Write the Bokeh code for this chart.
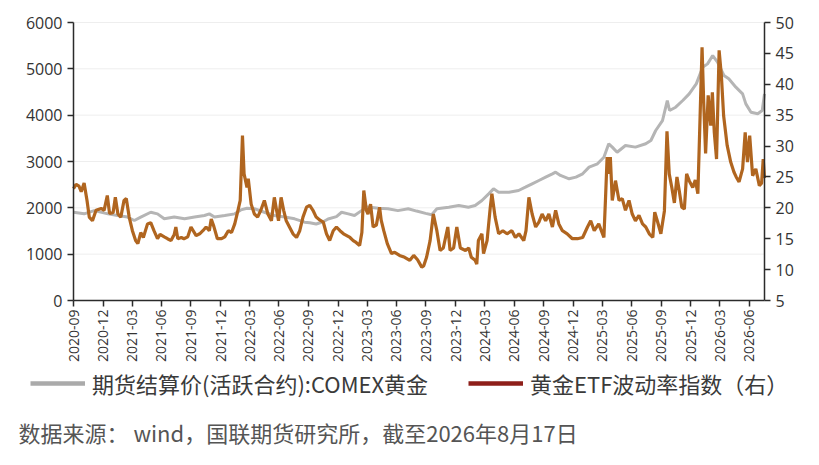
import math
import pandas as pd
from bokeh.plotting import figure
from bokeh.models import (Range1d, LinearAxis, FixedTicker, DatetimeTickFormatter,
                          Legend, LegendItem, Label)
from bokeh.embed import file_html
from bokeh.resources import INLINE

# ---------------- data ----------------
x_tick_labels = ["2020-09", "2020-12", "2021-03", "2021-06", "2021-09", "2021-12",
                 "2022-03", "2022-06", "2022-09", "2022-12", "2023-03", "2023-06",
                 "2023-09", "2023-12", "2024-03", "2024-06", "2024-09", "2024-12",
                 "2025-03", "2025-06", "2025-09", "2025-12", "2026-03", "2026-06"]
left_ticks = [0, 1000, 2000, 3000, 4000, 5000, 6000]
right_ticks = [5, 10, 15, 20, 25, 30, 35, 40, 45, 50]

gold_dates = ["2020-09-30", "2020-11-02", "2020-12-03", "2021-01-15", "2021-02-14", "2021-03-17",
              "2021-04-07", "2021-04-27", "2021-05-28", "2021-06-18", "2021-07-09", "2021-08-09",
              "2021-09-10", "2021-10-11", "2021-11-11", "2021-11-26", "2021-12-12", "2022-01-13",
              "2022-02-13", "2022-03-04", "2022-03-23", "2022-04-15", "2022-05-16", "2022-06-16",
              "2022-07-18", "2022-08-18", "2022-09-18", "2022-10-04", "2022-10-24", "2022-11-15",
              "2022-11-30", "2022-12-26", "2023-01-11", "2023-02-01", "2023-02-20", "2023-03-14",
              "2023-04-03", "2023-05-05", "2023-06-04", "2023-07-05", "2023-08-06", "2023-09-01",
              "2023-09-29", "2023-10-18", "2023-11-03", "2023-12-10", "2024-01-10", "2024-02-09",
              "2024-03-01", "2024-03-22", "2024-04-12", "2024-04-27", "2024-05-13", "2024-06-14",
              "2024-07-14", "2024-08-04", "2024-08-25", "2024-09-15", "2024-10-06", "2024-10-27",
              "2024-11-06", "2024-11-21", "2024-12-18", "2025-01-08", "2025-01-29", "2025-02-18",
              "2025-03-16", "2025-04-05", "2025-04-20", "2025-05-01", "2025-05-16", "2025-06-11",
              "2025-07-12", "2025-08-13", "2025-08-29", "2025-09-13", "2025-10-04", "2025-10-19",
              "2025-10-26", "2025-11-14", "2025-12-06", "2025-12-26", "2026-01-17", "2026-02-06",
              "2026-02-21", "2026-03-09", "2026-03-24", "2026-04-13", "2026-04-28", "2026-05-20",
              "2026-06-10", "2026-06-20", "2026-07-06", "2026-07-27", "2026-08-10", "2026-08-17"]
gold_price = [1905, 1870, 1940, 1870, 1835, 1800,
              1727, 1800, 1905, 1870, 1763, 1800,
              1763, 1800, 1835, 1870, 1800, 1835,
              1870, 1955, 1990, 1980, 1905, 1835,
              1800, 1763, 1690, 1680, 1650, 1700,
              1760, 1810, 1905, 1870, 1835, 1940,
              2020, 1990, 1980, 1940, 1980, 1930,
              1880, 1850, 1980, 2014, 2050, 2014,
              2050, 2158, 2302, 2410, 2338, 2338,
              2374, 2445, 2518, 2590, 2662, 2734,
              2770, 2700, 2626, 2662, 2734, 2878,
              2950, 3092, 3382, 3310, 3200, 3345,
              3310, 3382, 3453, 3669, 3884, 4316,
              4100, 4172, 4316, 4460, 4676, 5035,
              5107, 5287, 5143, 4856, 4784, 4604,
              4460, 4244, 4064, 4029, 4100, 4460]

vol_dates = ["2020-09-30", "2020-10-08", "2020-10-17", "2020-10-24", "2020-11-02", "2020-11-11",
             "2020-11-18", "2020-11-28", "2020-12-09", "2020-12-25", "2021-01-03", "2021-01-13",
             "2021-01-20", "2021-01-31", "2021-02-07", "2021-02-15", "2021-02-24", "2021-03-06",
             "2021-03-13", "2021-03-22", "2021-04-01", "2021-04-11", "2021-04-18", "2021-04-27",
             "2021-05-05", "2021-05-18", "2021-05-28", "2021-06-07", "2021-06-18", "2021-06-26",
             "2021-07-09", "2021-07-19", "2021-07-30", "2021-08-09", "2021-08-14", "2021-08-20",
             "2021-08-31", "2021-09-08", "2021-09-20", "2021-09-30", "2021-10-16", "2021-10-27",
             "2021-11-06", "2021-11-16", "2021-11-26", "2021-12-02", "2021-12-10", "2021-12-21",
             "2022-01-03", "2022-01-13", "2022-01-24", "2022-02-03", "2022-02-13", "2022-02-23",
             "2022-03-02", "2022-03-09", "2022-03-14", "2022-03-23", "2022-03-27", "2022-04-05",
             "2022-04-15", "2022-04-25", "2022-05-05", "2022-05-16", "2022-05-27", "2022-06-07",
             "2022-06-16", "2022-06-23", "2022-06-29", "2022-07-07", "2022-07-15", "2022-07-23",
             "2022-08-02", "2022-08-13", "2022-08-24", "2022-09-03", "2022-09-13", "2022-09-24",
             "2022-10-04", "2022-10-14", "2022-10-24", "2022-11-05", "2022-11-15", "2022-11-25",
             "2022-12-05", "2022-12-16", "2022-12-26", "2023-01-06", "2023-01-17", "2023-01-27",
             "2023-02-06", "2023-02-16", "2023-02-25", "2023-03-08", "2023-03-15", "2023-03-21",
             "2023-03-29", "2023-04-03", "2023-04-11", "2023-04-19", "2023-04-29", "2023-05-09",
             "2023-05-14", "2023-05-22", "2023-06-02", "2023-06-15", "2023-06-25", "2023-07-10",
             "2023-07-26", "2023-08-11", "2023-08-23", "2023-09-04", "2023-09-17", "2023-09-23",
             "2023-10-02", "2023-10-13", "2023-10-23", "2023-11-03", "2023-11-13", "2023-11-23",
             "2023-12-07", "2023-12-14", "2023-12-25", "2024-01-04", "2024-01-15", "2024-01-31",
             "2024-02-10", "2024-02-18", "2024-03-01", "2024-03-06", "2024-03-11", "2024-03-22",
             "2024-03-27", "2024-04-07", "2024-04-17", "2024-04-22", "2024-05-02", "2024-05-13",
             "2024-05-26", "2024-06-08", "2024-06-23", "2024-07-04", "2024-07-15", "2024-07-30",
             "2024-08-06", "2024-08-15", "2024-08-25", "2024-09-05", "2024-09-15", "2024-09-25",
             "2024-10-06", "2024-10-16", "2024-10-27", "2024-11-06", "2024-11-16", "2024-11-27",
             "2024-12-12", "2024-12-28", "2025-01-13", "2025-01-29", "2025-02-13", "2025-02-23",
             "2025-03-06", "2025-03-20", "2025-04-05", "2025-04-10", "2025-04-15", "2025-04-20",
             "2025-04-25", "2025-05-01", "2025-05-11", "2025-05-22", "2025-06-01", "2025-06-11",
             "2025-06-22", "2025-07-02", "2025-07-12", "2025-07-23", "2025-08-03", "2025-08-13",
             "2025-08-24", "2025-09-04", "2025-09-10", "2025-09-19", "2025-09-29", "2025-10-10",
             "2025-10-18", "2025-10-25", "2025-11-02", "2025-11-10", "2025-11-18", "2025-11-25",
             "2025-12-03", "2025-12-11", "2025-12-18", "2025-12-26", "2026-01-06", "2026-01-14",
             "2026-01-22", "2026-01-29", "2026-02-04", "2026-02-09", "2026-02-15", "2026-02-23",
             "2026-03-03", "2026-03-08", "2026-03-14", "2026-03-21", "2026-03-29", "2026-04-05",
             "2026-04-12", "2026-04-23", "2026-05-04", "2026-05-14", "2026-05-21", "2026-05-30",
             "2026-06-10", "2026-06-18", "2026-06-25", "2026-07-02", "2026-07-11", "2026-07-21",
             "2026-08-01", "2026-08-08", "2026-08-13", "2026-08-17"]
vol_index = [23.1, 23.8, 23.5, 22.6, 24.0, 21.2,
             18.5, 17.9, 19.6, 19.9, 19.6, 22.0,
             19.1, 19.2, 21.7, 19.0, 18.5, 21.2,
             21.5, 18.5, 16.3, 14.7, 14.2, 16.0,
             15.2, 17.4, 17.6, 16.3, 15.0, 15.7,
             15.3, 15.0, 14.7, 15.7, 16.9, 15.0,
             15.2, 15.0, 15.3, 16.9, 15.5, 15.8,
             16.3, 16.9, 16.3, 18.2, 17.0, 15.0,
             15.0, 15.3, 16.3, 16.0, 17.4, 19.6,
             21.2, 31.7, 25.5, 23.3, 24.7, 20.6,
             19.0, 18.5, 19.6, 21.2, 19.0, 17.9,
             21.7, 19.6, 17.9, 21.7, 19.6, 17.9,
             16.9, 15.8, 15.2, 16.3, 18.5, 20.1,
             20.4, 19.6, 18.5, 18.0, 17.7, 15.8,
             14.7, 16.3, 16.9, 16.3, 15.8, 15.5,
             15.2, 14.7, 14.4, 13.9, 16.0, 22.8,
             19.6, 19.0, 20.6, 16.9, 17.2, 20.1,
             18.0, 16.3, 14.2, 12.6, 12.8, 12.3,
             12.0, 11.5, 12.3, 11.6, 10.4, 10.6,
             12.0, 14.7, 19.0, 16.3, 13.1, 13.5,
             16.9, 13.1, 13.5, 16.9, 13.5, 13.1,
             13.5, 12.0, 11.5, 10.9, 14.7, 15.8,
             12.6, 14.7, 20.1, 22.3, 18.5, 15.8,
             16.3, 15.8, 16.3, 15.2, 15.8, 14.7,
             16.3, 21.7, 19.0, 16.9, 17.7, 19.0,
             17.9, 19.0, 16.9, 19.6, 17.4, 16.3,
             15.8, 15.0, 15.0, 15.2, 16.9, 17.9,
             16.3, 17.4, 15.2, 21.5, 28.2, 25.5,
             28.2, 21.2, 24.4, 21.2, 21.5, 19.6,
             21.2, 19.0, 17.9, 18.8, 17.4, 16.9,
             15.8, 15.2, 19.3, 17.7, 15.8, 19.5,
             32.4, 25.5, 23.3, 20.8, 25.0, 22.8,
             20.1, 19.8, 25.5, 24.4, 23.3, 24.5,
             22.3, 35.0, 46.0, 37.2, 28.8, 38.2,
             33.3, 38.7, 32.2, 27.9, 45.5, 41.4,
             34.9, 30.1, 27.4, 25.8, 25.0, 24.2,
             26.3, 32.2, 27.4, 31.7, 25.2, 26.3,
             23.6, 24.0, 27.9, 24.8]

gold_label = "期货结算价(活跃合约):COMEX黄金"
vol_label = "黄金ETF波动率指数（右）"
source_text = "数据来源： wind，国联期货研究所，截至2026年8月17日"

# ---------------- layout constants (pixels) ----------------
W, H = 819, 465
BOX_L, BOX_R, BOX_T, BOX_B = 73, 764, 22, 300      # plotting box inside the canvas

gx = pd.to_datetime(gold_dates)
vx = pd.to_datetime(vol_dates)
x_ticks = [pd.Period(t, "M").end_time.normalize().value // 10**6 for t in x_tick_labels]
x_lo = gx[0].value // 10**6
x_hi = vx[-1].value // 10**6
y_lo, y_hi = left_ticks[0], left_ticks[-1]
v_lo, v_hi = right_ticks[0], right_ticks[-1]

# the frame covers the whole canvas; ranges are widened so that the data box sits where it should
kx = (x_hi - x_lo) / (BOX_R - BOX_L)
ky = (y_hi - y_lo) / (BOX_B - BOX_T)
kv = (v_hi - v_lo) / (BOX_B - BOX_T)

p = figure(width=W, height=H, x_axis_type="datetime",
           x_range=Range1d(x_lo - BOX_L * kx, x_hi + (W - BOX_R) * kx),
           y_range=Range1d(y_lo - (H - BOX_B) * ky, y_hi + BOX_T * ky),
           output_backend="svg", toolbar_location=None,
           min_border=0, min_border_left=0, min_border_right=0,
           min_border_top=0, min_border_bottom=0)
p.extra_y_ranges = {"vol": Range1d(v_lo - (H - BOX_B) * kv, v_hi + BOX_T * kv)}
p.outline_line_color = None
p.xgrid.visible = False
p.ygrid.visible = False

axis_color = "#2b2b2b"
label_color = "#333333"
tick_font = "Open Sans"

xa = p.xaxis[0]
xa.fixed_location = y_lo
xa.bounds = (x_lo, x_hi)
xa.ticker = FixedTicker(ticks=x_ticks)
xa.formatter = DatetimeTickFormatter(days="%Y-%m", months="%Y-%m", years="%Y-%m",
                                     hours="%Y-%m", minutes="%Y-%m", seconds="%Y-%m")
xa.major_label_orientation = math.pi / 2
xa.major_label_text_font_size = "14px"
xa.major_label_standoff = 3

ya = p.yaxis[0]
ya.fixed_location = x_lo
ya.bounds = (y_lo, y_hi)
ya.ticker = FixedTicker(ticks=left_ticks)
ya.major_label_text_font_size = "16px"
ya.major_label_standoff = 5

ra = LinearAxis(y_range_name="vol", ticker=FixedTicker(ticks=right_ticks),
                fixed_location=x_hi, bounds=(v_lo, v_hi))
ra.major_label_text_font_size = "16px"
ra.major_label_standoff = 5
p.add_layout(ra, "right")

for ax in (xa, ya, ra):
    ax.major_label_text_font = tick_font
    ax.major_label_text_color = label_color
    ax.axis_line_color = axis_color
    ax.axis_line_width = 1.5
    ax.major_tick_line_color = axis_color
    ax.major_tick_line_width = 1.5
    ax.major_tick_out = 6
    ax.major_tick_in = 0
    ax.minor_tick_line_color = None

# faint horizontal grid lines between the two axes, at the left-axis ticks
grid_y = left_ticks[1:]
p.segment(x0=[gx[0]] * len(grid_y), x1=[vx[-1]] * len(grid_y), y0=grid_y, y1=grid_y,
          line_color="#eeeeee", line_width=1)

p.line(gx, gold_price, line_color="#b5b5b5", line_width=3)
p.line(vx, vol_index, line_color="#b0651f", line_width=3.2, y_range_name="vol")

# ---------------- legend + source ----------------
# swatch-only renderers (a single missing value, so nothing shows in the plot)
lg_gold = p.line([gx[0]], [float("nan")], line_color="#aaaaaa", line_width=4.5)
lg_vol = p.line([vx[0]], [float("nan")], line_color="#8e1f1a", line_width=4.5,
                y_range_name="vol")
legend = Legend(items=[LegendItem(label=gold_label, renderers=[lg_gold]),
                       LegendItem(label=vol_label, renderers=[lg_vol])],
                orientation="horizontal", location=(30, H - 399),
                glyph_width=55, glyph_height=22, label_height=22, label_standoff=7,
                spacing=40, padding=0, margin=0,
                border_line_color=None, background_fill_alpha=0,
                label_text_font="Noto Sans CJK SC", label_text_font_size="22px",
                label_text_color="#3a3a3a")
p.add_layout(legend, "center")

p.add_layout(Label(x=18, y=H - 431, x_units="screen", y_units="screen", text=source_text,
                   text_font="Noto Sans CJK SC", text_font_size="22px",
                   text_color="#555555", text_baseline="middle"))

open("out.html", "w").write(file_html(p, INLINE))
